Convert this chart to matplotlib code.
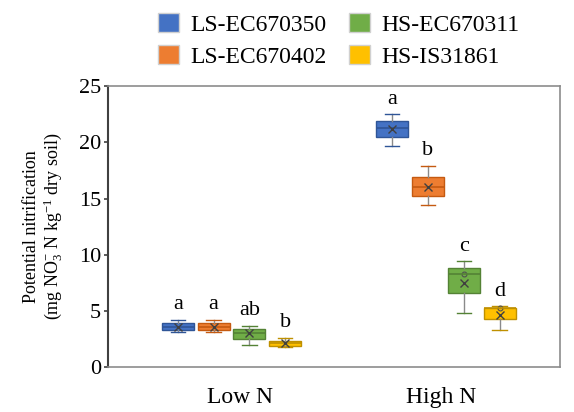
import matplotlib
matplotlib.use('Agg')
import matplotlib.pyplot as plt
from matplotlib.patches import Patch
import numpy as np

plt.rcParams['font.family'] = ['Liberation Serif', 'DejaVu Serif']
plt.rcParams['mathtext.fontset'] = 'custom'
plt.rcParams['mathtext.rm'] = 'Liberation Serif'
plt.rcParams['mathtext.it'] = 'Liberation Serif:italic'

# dados
grupos = ['Low N', 'High N']
genotipos = ['LS-EC670350', 'LS-EC670402', 'HS-EC670311', 'HS-IS31861']
cores = ['#4472C4', '#ED7D31', '#70AD47', '#FFC000']
bordas = ['#2F5597', '#C55A11', '#548235', '#BF9000']

# [Low N, High N] para cada genotipo
wlo = [[3.1, 19.7], [3.1, 14.4], [2.0, 4.8], [1.8, 3.3]]
q1 = [[3.3, 20.5], [3.3, 15.2], [2.5, 6.6], [1.9, 4.3]]
med = [[3.6, 21.3], [3.6, 16.0], [3.0, 8.3], [2.1, 5.3]]
q3 = [[3.9, 21.9], [3.9, 16.9], [3.4, 8.8], [2.3, 5.3]]
whi = [[4.2, 22.5], [4.2, 17.9], [3.7, 9.4], [2.6, 5.4]]
media = [[3.6, 21.2], [3.6, 16.0], [3.0, 7.5], [2.1, 4.6]]
letras = [['a', 'a'], ['a', 'b'], ['ab', 'c'], ['b', 'd']]
# pontos internos (circulos) em High N
pontos_x = [2, 3]
pontos_y = [8.3, 5.3]

fig = plt.figure(figsize=(5.74, 4.12), dpi=100)
ax = fig.add_axes([0.188, 0.109, 0.788, 0.682])

centros = [1, 2]
desloc = np.array([-1.5, -0.5, 0.5, 1.5]) * 0.1669
largura = 0.149

for i in range(4):
    stats = []
    pos = []
    for j in range(2):
        stats.append({'whislo': wlo[i][j], 'q1': q1[i][j], 'med': med[i][j],
                      'q3': q3[i][j], 'whishi': whi[i][j], 'mean': media[i][j]})
        pos.append(centros[j] + desloc[i])
    ax.bxp(stats, positions=pos, widths=largura, patch_artist=True,
           showmeans=True, showfliers=False,
           boxprops=dict(facecolor=cores[i], edgecolor=bordas[i], linewidth=1),
           medianprops=dict(color=bordas[i], linewidth=1.2),
           whiskerprops=dict(color='#8a8a8a', linewidth=1),
           capprops=dict(color=bordas[i], linewidth=1),
           capwidths=largura * 0.45,
           meanprops=dict(marker='x', markeredgecolor='#404040', markersize=6,
                          markeredgewidth=1))
    for j in range(2):
        ax.annotate(letras[i][j], (centros[j] + desloc[i], whi[i][j]),
                    xytext=(0, 4), textcoords='offset points',
                    ha='center', va='bottom', fontsize=16)

ax.plot([2 + desloc[k] for k in pontos_x], pontos_y, 'o', mfc='none',
        mec='#505050', ms=3.5, mew=0.8)

ax.set_xlim(0.4236, 2.533)
ax.set_ylim(0, 25)
ax.set_yticks([0, 5, 10, 15, 20, 25])
ax.set_xticks([1.04, 1.978])
ax.set_xticklabels(grupos)
ax.tick_params(axis='x', length=0, labelsize=17, pad=14)
ax.tick_params(axis='y', labelsize=16, length=3, width=1.2, color='#404040',
               pad=2)
for s in ['top', 'right', 'bottom']:
    ax.spines[s].set_color('#8c8c8c')
    ax.spines[s].set_linewidth(1.2)
ax.spines['left'].set_color('#404040')
ax.spines['left'].set_linewidth(1.5)

ax.set_ylabel('Potential nitrification\n(mg NO$_{3}^{-}$ N kg$^{-1}$ dry soil)',
              fontsize=13, linespacing=1.1, labelpad=10)

handles = [Patch(facecolor=cores[i], edgecolor='#d0d0d0') for i in range(4)]
fig.legend(handles, genotipos, ncol=2, loc='upper left',
           bbox_to_anchor=(158 / 574, 1 - 13 / 412), frameon=False, fontsize=17,
           borderpad=0, borderaxespad=0,
           handlelength=0.9, handleheight=0.85, columnspacing=0.93,
           handletextpad=0.47, labelspacing=0.4)

fig.savefig('out.png', dpi=100)
